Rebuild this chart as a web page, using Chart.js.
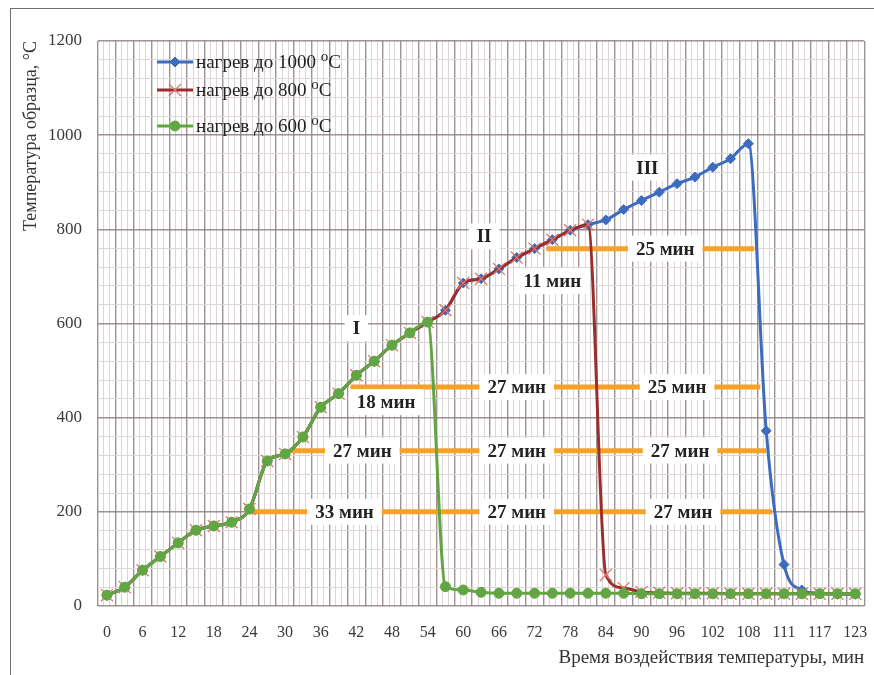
<!DOCTYPE html>
<html>
<head>
<meta charset="utf-8">
<script src="https://cdn.jsdelivr.net/npm/chart.js@4.4.1/dist/chart.umd.min.js"></script>
<style>
  html, body { margin: 0; padding: 0; background: #fff; }
  #wrap { position: relative; width: 874px; height: 675px; overflow: hidden; }
  #frame { position: absolute; left: 10px; top: 8px; width: 900px; height: 700px;
           border-left: 1.5px solid #707070; border-top: 1.5px solid #707070; }
  canvas { position: absolute; left: 0; top: 0; }
</style>
</head>
<body>
<div id="wrap">
  <div id="frame"></div>
  <canvas id="myChart" width="874" height="675"></canvas>
</div>
<script>
// time axis, min (one point every 3 min, tail is denser in the source)
var minutes = ['0','3','6','9','12','15','18','21','24','27','30','33','36','39','42','45','48','51','54',
               '57','60','63','66','69','72','75','78','81','84','87','90','93','96','99','102','105','108',
               '109','111','114','117','120','123'];

// sample temperature, °C
var heat1000 = [23, 40, 76, 105, 134, 161, 170, 178, 206, 308, 323, 359, 422, 451, 490, 520, 554, 580, 603,
                628, 686, 695, 716, 740, 759, 778, 798, 810,
                820, 842, 861, 879, 897, 911, 932, 950, 982,
                372, 88, 34, 27, 25, 25];
var heat800 = [23, 40, 76, 105, 134, 161, 170, 178, 206, 308, 323, 359, 422, 451, 490, 520, 554, 580, 603,
               628, 686, 695, 716, 740, 759, 778, 798, 810,
               66, 38, 30, 28, 27, 27, 27, 26, 26, 26, 26, 26, 26, 26, 26];
var heat600 = [23, 40, 76, 105, 134, 161, 170, 178, 206, 308, 323, 359, 422, 451, 490, 520, 554, 580, 603,
               41, 34, 29, 27, 27, 27, 27, 27, 27, 27, 27, 26, 26, 26, 26, 26, 26, 26, 26, 26, 26, 26, 26, 26];

var seriesNames = ['нагрев до 1000 °C', 'нагрев до 800 °C', 'нагрев до 600 °C'];

// orange holding intervals (x in 3-min steps of the time axis)
var spanLevel = [200, 330, 465, 759];
var spanFrom = [24, 31, 41, 74];
var spanTo = [112, 111, 110, 109];

// captions on the chart
var noteText = ['33 мин', '27 мин', '27 мин', '27 мин', '27 мин', '27 мин', '18 мин', '27 мин', '25 мин',
                '11 мин', '25 мин', 'I', 'II', 'III'];
var noteX = [40, 69, 97, 43, 69, 96.5, 47, 69, 96, 75, 94, 42, 63.5, 91];
var noteY = [200, 200, 200, 330, 330, 330, 433, 465, 465, 690, 759, 590, 785, 931];

var DARK = 'rgba(140,128,128,0.85)';
var LIGHT = '#ddd6d6';
var SERIF = '"Liberation Serif", "Times New Roman", serif';

var spans = spanLevel.map(function (lv, i) {
  return {
    label: 'span' + i,
    data: [{x: spanFrom[i], y: lv}, {x: spanTo[i], y: lv}],
    xAxisID: 'xm',
    borderColor: '#f5a227',
    borderWidth: 5,
    pointRadius: 0,
    tension: 0,
    order: 10
  };
});

var notesPlugin = {
  id: 'notes',
  afterDatasetsDraw: function (chart) {
    var ctx = chart.ctx, xs = chart.scales.xm, ys = chart.scales.y;
    ctx.save();
    ctx.font = 'bold 19px ' + SERIF;
    ctx.textAlign = 'center';
    ctx.textBaseline = 'middle';
    for (var i = 0; i < noteText.length; i++) {
      var px = xs.getPixelForValue(noteX[i]);
      var py = ys.getPixelForValue(noteY[i]);
      var w = ctx.measureText(noteText[i]).width + 16, h = 26;
      ctx.fillStyle = '#fff';
      ctx.fillRect(px - w / 2, py - h / 2, w, h);
      ctx.fillStyle = '#222';
      ctx.fillText(noteText[i], px, py + 1);
    }
    ctx.restore();
  }
};

var legendPlugin = {
  id: 'insideLegend',
  afterDraw: function (chart) {
    var ctx = chart.ctx, a = chart.chartArea;
    var rows = [21, 49, 85];
    ctx.save();
    for (var i = 0; i < 3; i++) {
      var ds = chart.data.datasets[i];
      var y = a.top + rows[i], x0 = a.left + 59, x1 = a.left + 95;
      ctx.strokeStyle = ds.borderColor;
      ctx.lineWidth = 3;
      ctx.beginPath(); ctx.moveTo(x0, y); ctx.lineTo(x1, y); ctx.stroke();
      ctx.fillStyle = ds.backgroundColor || ds.borderColor;
      ctx.strokeStyle = ds.pointBorderColor || ds.borderColor;
      ctx.lineWidth = ds.pointBorderWidth || 1;
      Chart.helpers.drawPoint(ctx, {pointStyle: ds.pointStyle, radius: ds.pointRadius,
        borderWidth: ds.pointBorderWidth || 1, rotation: 0}, (x0 + x1) / 2, y);

      var name = ds.label, pre = name.replace(' °C', ' ');
      ctx.fillStyle = '#222';
      ctx.textAlign = 'left';
      ctx.textBaseline = 'middle';
      ctx.font = '19px ' + SERIF;
      var tx = x1 + 3;
      ctx.fillText(pre, tx, y + 1);
      tx += ctx.measureText(pre).width;
      ctx.font = '15px ' + SERIF;
      ctx.fillText('o', tx, y - 5);
      tx += ctx.measureText('o').width;
      ctx.font = '19px ' + SERIF;
      ctx.fillText('C', tx, y + 1);
    }
    ctx.restore();
  }
};

window.onload = function () {
  var ctx = document.getElementById('myChart');
  var chart = new Chart(ctx, {
    type: 'line',
    data: {
      labels: minutes,
      datasets: [{
        label: seriesNames[0],
        data: heat1000,
        xAxisID: 'x',
        borderColor: '#3d6cbf',
        backgroundColor: '#3d6cbf',
        borderWidth: 3,
        pointStyle: 'rectRot',
        pointRadius: 5,
        pointBorderWidth: 1,
        cubicInterpolationMode: 'monotone',
        order: 3
      }, {
        label: seriesNames[1],
        data: heat800,
        xAxisID: 'x',
        borderColor: '#9b2e2c',
        backgroundColor: '#9b2e2c',
        pointBorderColor: '#d8786e',
        borderWidth: 3,
        pointStyle: 'crossRot',
        pointRadius: 8.5,
        pointBorderWidth: 1.3,
        cubicInterpolationMode: 'monotone',
        order: 2
      }, {
        label: seriesNames[2],
        data: heat600,
        xAxisID: 'x',
        borderColor: '#62a543',
        backgroundColor: '#62a543',
        borderWidth: 3,
        pointStyle: 'circle',
        pointRadius: 5,
        pointBorderWidth: 1,
        cubicInterpolationMode: 'monotone',
        order: 1
      }].concat(spans)
    },
    options: {
      responsive: false,
      animation: false,
      layout: { padding: { left: 10, top: 41, right: 2, bottom: 0 } },
      plugins: {
        legend: { display: false },
        tooltip: { enabled: false }
      },
      scales: {
        x: {
          type: 'category',
          offset: true,
          grid: { display: false },
          border: { display: false },
          ticks: {
            autoSkip: false,
            maxRotation: 0,
            padding: 9,
            color: '#3a3a3a',
            font: { family: SERIF, size: 16 },
            callback: function (v, i) { return i % 2 === 0 ? this.getLabelForValue(v) : ''; }
          },
          title: {
            display: true,
            text: 'Время воздействия температуры, мин',
            align: 'end',
            color: '#333',
            font: { family: SERIF, size: 19 },
            padding: { top: 9, bottom: 6 }
          },
          afterFit: function (s) { s.height = 69; s.paddingLeft = 0; s.paddingRight = 0; }
        },
        xm: {
          type: 'linear',
          position: 'bottom',
          min: -1.5,
          max: 127.5,
          ticks: { display: false, stepSize: 1 },
          grid: {
            drawTicks: false,
            color: function (c) { return c.index % 3 === 0 ? DARK : LIGHT; },
            lineWidth: function (c) { return c.index % 3 === 0 ? 1.4 : 1; }
          },
          border: { display: false },
          afterFit: function (s) { s.height = 0; s.paddingLeft = 0; s.paddingRight = 0; }
        },
        y: {
          min: 0,
          max: 1200,
          ticks: {
            stepSize: 40,
            autoSkip: false,
            padding: 16,
            color: '#3a3a3a',
            font: { family: SERIF, size: 17 },
            callback: function (v) { return v % 200 === 0 ? v : ''; }
          },
          grid: {
            drawTicks: false,
            color: function (c) { return c.tick && c.tick.value % 200 === 0 ? DARK : LIGHT; },
            lineWidth: function (c) { return c.tick && c.tick.value % 200 === 0 ? 1.4 : 1; }
          },
          border: { display: false },
          title: {
            display: true,
            text: 'Температура образца, °C',
            align: 'end',
            color: '#333',
            font: { family: SERIF, size: 18 },
            padding: { top: 10, bottom: 4 }
          },
          afterFit: function (s) { s.width = 88; }
        }
      }
    },
    plugins: [notesPlugin, legendPlugin]
  });
};
</script>
</body>
</html>
